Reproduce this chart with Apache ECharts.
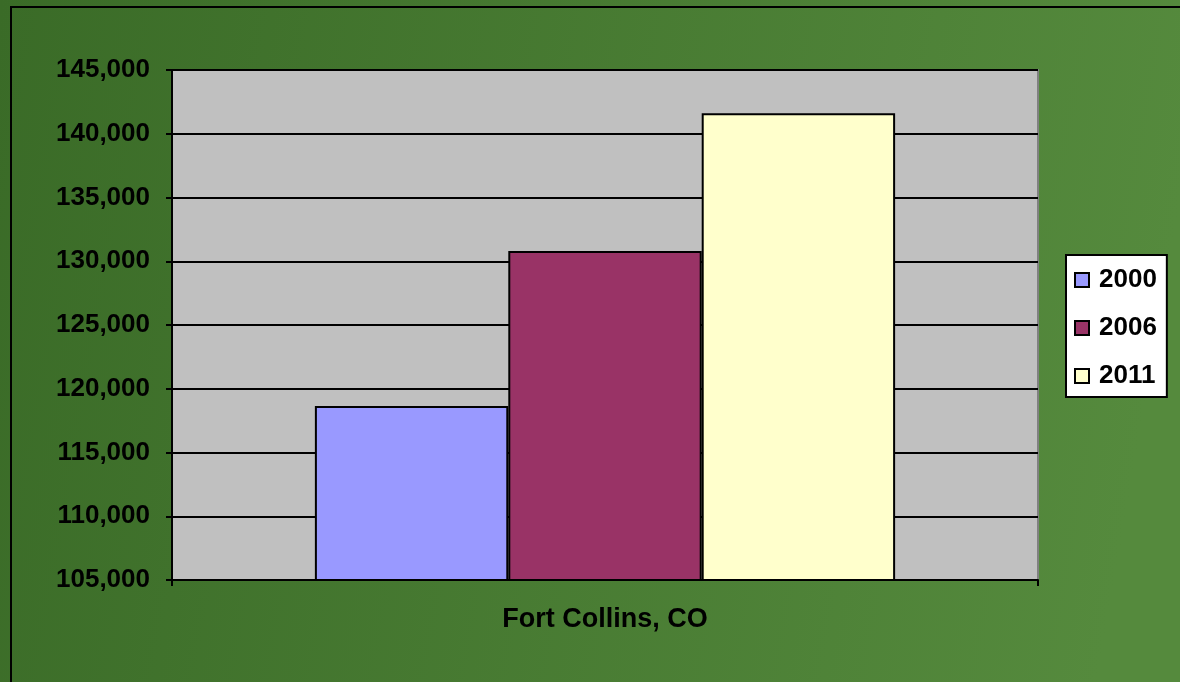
<!DOCTYPE html>
<html><head><meta charset="utf-8">
<script src="https://cdn.jsdelivr.net/npm/echarts@6/dist/echarts.min.js"></script>
<style>html,body{margin:0;padding:0;}#c{width:1180px;height:682px;}</style>
</head><body><div id="c"></div>
<script>
const categories = ['Fort Collins, CO'];
const seriesNames = ['2000', '2006', '2011'];
const values2000 = [118652];
const values2006 = [130800];
const values2011 = [141600];
const colors = ['#9999ff', '#993366', '#ffffcc'];
const yTicks = { min: 105000, max: 145000, interval: 5000 };

const chart = echarts.init(document.getElementById('c'));
const fmt = v => v.toLocaleString('en-US');
const valuesList = [values2000, values2006, values2011];
chart.setOption({
  backgroundColor: new echarts.graphic.LinearGradient(0, 0, 1, 0.3, [
    { offset: 0, color: '#3a6b27' }, { offset: 1, color: '#558a3d' }
  ]),
  animation: false,
  textStyle: { fontFamily: 'Liberation Sans, Arial, sans-serif' },
  graphic: [{
    type: 'rect', shape: { x: 11, y: 7, width: 1300, height: 800 },
    style: { fill: 'none', stroke: '#000', lineWidth: 2 }, silent: true
  }],
  grid: { left: 172, right: 142, top: 70, bottom: 102, show: true,
    backgroundColor: '#c0c0c0', borderColor: '#808080', borderWidth: 2 },
  legend: {
    orient: 'vertical', left: 1066, top: 255,
    backgroundColor: '#fff', borderColor: '#000', borderWidth: 2,
    padding: [12, 10, 8, 8], itemGap: 22, itemWidth: 14, itemHeight: 14, icon: 'rect',
    textStyle: { fontSize: 26, fontWeight: 'bold', color: '#000', padding: [0, 0, 0, 5] },
    data: seriesNames
  },
  xAxis: {
    type: 'category', data: categories,
    axisLine: { lineStyle: { color: '#000', width: 2 } },
    axisTick: { show: true, length: 6, lineStyle: { color: '#000', width: 2 } },
    axisLabel: { fontSize: 27, fontWeight: 'bold', color: '#000', margin: 26 }
  },
  yAxis: {
    type: 'value', min: yTicks.min, max: yTicks.max, interval: yTicks.interval,
    axisLine: { show: true, lineStyle: { color: '#000', width: 2 } },
    axisTick: { show: true, length: 6, lineStyle: { color: '#000', width: 2 } },
    splitLine: { lineStyle: { color: '#000', width: 2 } },
    axisLabel: { fontSize: 26, fontWeight: 'bold', color: '#000', margin: 22, formatter: fmt }
  },
  series: seriesNames.map((n, i) => ({
    name: n, type: 'bar', data: valuesList[i],
    barGap: '0%', barCategoryGap: '33%',
    itemStyle: { color: colors[i], borderColor: '#000', borderWidth: 2 }
  }))
});
</script></body></html>
